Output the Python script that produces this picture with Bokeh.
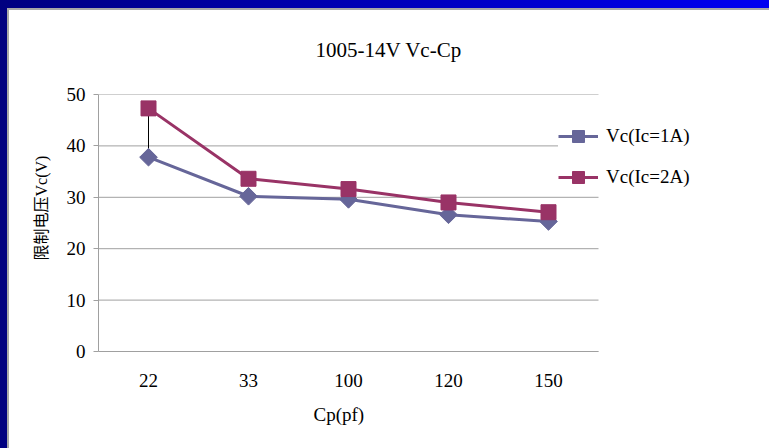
import math
from bokeh.plotting import figure
from bokeh.models import Range1d, Legend, LegendItem, Title, FixedTicker
from bokeh.embed import file_html
from bokeh.resources import INLINE

# ---- data ----
categories = ["22", "33", "100", "120", "150"]
vc_1a = [37.8, 30.2, 29.6, 26.6, 25.3]
vc_2a = [47.3, 33.6, 31.6, 29.0, 27.1]
series_names = ["Vc(Ic=1A)", "Vc(Ic=2A)"]
y_ticks = [0, 10, 20, 30, 40, 50]
title_text = "1005-14V Vc-Cp"
x_label = "Cp(pf)"
y_label = "限制电压Vc(V)"

FONT = "'Liberation Serif', 'Noto Sans CJK SC'"
C1 = "#666699"
C2 = "#993366"
GRAY = "#a0a0a0"

n = len(categories)
xs = list(range(n))
x_lo, x_hi = -0.5, n - 0.5          # category band of the plot area
x_end = x_hi + 1.71                 # extra room on the right for the legend

p = figure(width=769, height=448, x_range=Range1d(x_lo, x_end),
           y_range=Range1d(y_ticks[0], y_ticks[-1]), output_backend="svg",
           toolbar_location=None,
           min_border_left=98, min_border_right=0, min_border_top=94,
           min_border_bottom=97)
p.border_fill_color = None
p.background_fill_color = None
p.outline_line_color = None
p.styles = {
    "background": (
        "linear-gradient(to right, #000080, #0000f2) 0 0 / 100% 8px no-repeat, "
        "linear-gradient(#000080, #000080) 0 0 / 7px 100% no-repeat, "
        "linear-gradient(#a8a8a8, #a8a8a8) 0 8px / 100% 2px no-repeat, "
        "linear-gradient(#a8a8a8, #a8a8a8) 7px 0 / 2px 100% no-repeat, "
        "white"
    )
}

# title
p.title = Title(text=title_text, align="left", offset=217, standoff=66,
                text_font=FONT, text_font_size="21px",
                text_font_style="normal", text_color="#000000")

# axes
p.xgrid.grid_line_color = None
p.ygrid.grid_line_color = None
p.yaxis.ticker = FixedTicker(ticks=y_ticks)
p.yaxis.minor_tick_line_color = None
p.yaxis.major_tick_in = 0
p.yaxis.major_tick_out = 5
p.yaxis.major_tick_line_color = GRAY
p.yaxis.axis_line_color = GRAY
p.yaxis.major_label_standoff = 8
p.xaxis.ticker = FixedTicker(ticks=xs)
p.xaxis.major_label_overrides = {i: c for i, c in zip(xs, categories)}
p.xaxis.bounds = (x_lo, x_hi)
p.xaxis.axis_line_color = GRAY
p.xaxis.major_tick_line_color = None
p.xaxis.minor_tick_line_color = None
p.xaxis.major_label_standoff = 16
for ax in (p.xaxis, p.yaxis):
    ax.major_label_text_font = FONT
    ax.major_label_text_font_size = "19px"
    ax.major_label_text_color = "#000000"

# x axis title, centred under the category band
p.add_layout(Title(text=x_label, align="left", offset=215, standoff=24,
                   text_font=FONT, text_font_size="19px",
                   text_font_style="normal", text_color="#000000"), "below")
# y axis title
p.add_layout(Title(text=y_label, align="left", offset=91, standoff=27,
                   text_font=FONT, text_font_size="16px",
                   text_font_style="normal", text_color="#000000"), "left")

# horizontal gridlines across the category band only
p.segment(x0=[x_lo] * len(y_ticks), y0=y_ticks, x1=[x_hi] * len(y_ticks),
          y1=y_ticks, line_color=GRAY, line_width=1)

# link line between the two series at the first category
p.segment(x0=[xs[0]], y0=[vc_2a[0]], x1=[xs[0]], y1=[vc_1a[0]],
          line_color="black", line_width=1)

l1 = p.line(xs, vc_1a, line_color=C1, line_width=3)
s1 = p.scatter(xs, vc_1a, marker="square", angle=math.pi / 4, size=12.5,
               fill_color=C1, line_color=C1)
l2 = p.line(xs, vc_2a, line_color=C2, line_width=3)
s2 = p.scatter(xs, vc_2a, marker="square", size=15, fill_color=C2,
               line_color=C2)

legend = Legend(items=[LegendItem(label=series_names[0], renderers=[l1, s1]),
                       LegendItem(label=series_names[1], renderers=[l2, s2])],
                location=(460, 159), orientation="vertical",
                glyph_width=40, glyph_height=30, label_height=20,
                label_standoff=8, spacing=11, padding=12, margin=0,
                border_line_color=None, background_fill_color="white",
                background_fill_alpha=1.0,
                label_text_font=FONT, label_text_font_size="19px",
                label_text_color="#000000")
p.add_layout(legend, "center")

open("out.html", "w").write(file_html(p, INLINE))
